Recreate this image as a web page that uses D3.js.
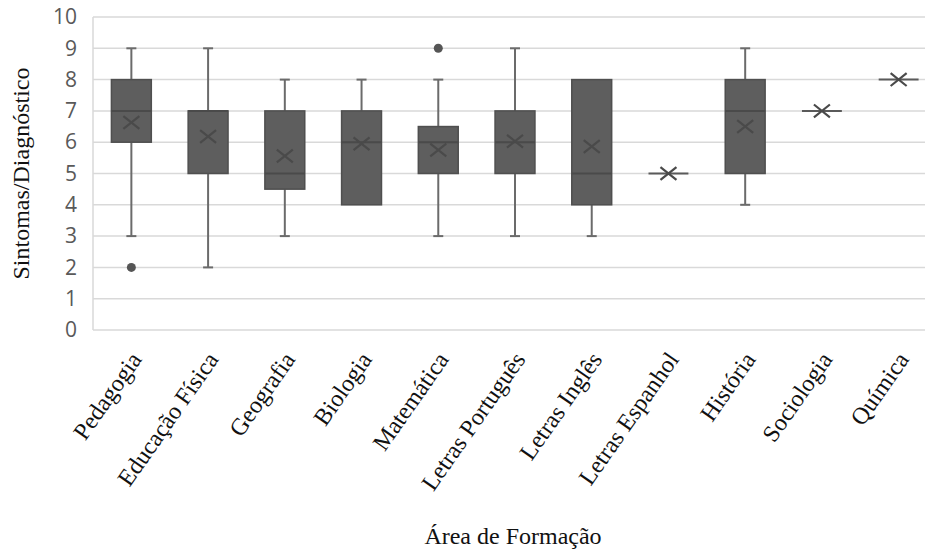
<!DOCTYPE html>
<html>
<head>
<meta charset="utf-8">
<script src="https://cdn.jsdelivr.net/npm/d3@7"></script>
<style>
  body { margin: 0; background: #fff; }
</style>
</head>
<body>
<div id="canvas"></div>
<script>
// categories and the box values
const categories = ["Pedagogia", "Educação Física", "Geografia", "Biologia", "Matemática",
  "Letras Português", "Letras Inglês", "Letras Espanhol", "História", "Sociologia", "Química"];
const whiskerLow  = [3, 2, 3,   4, 3,   3, 3, 5, 4, 7, 8];
const q1          = [6, 5, 4.5, 4, 5,   5, 4, 5, 5, 7, 8];
const medians     = [7, 7, 5,   6, 6,   6, 5, 5, 7, 7, 8];
const q3          = [8, 7, 7,   7, 6.5, 7, 8, 5, 8, 7, 8];
const whiskerHigh = [9, 9, 8,   8, 8,   9, 8, 5, 9, 7, 8];
const means       = [6.63, 6.18, 5.56, 5.95, 5.75, 6.03, 5.86, 5, 6.5, 7, 8];
const outlierCats = ["Pedagogia", "Matemática"];
const outlierVals = [2, 9];
const yTicks = [0, 1, 2, 3, 4, 5, 6, 7, 8, 9, 10];

const width = 925, height = 549;
const margin = {top: 17, right: -12, bottom: 219, left: 93};
const innerW = width - margin.left - margin.right;
const innerH = height - margin.top - margin.bottom;

const svg = d3.select("#canvas")
  .append("svg")
    .attr("width", width)
    .attr("height", height);

const g = svg.append("g")
    .attr("transform", "translate(" + margin.left + "," + margin.top + ")");

const x = d3.scaleBand()
    .domain(categories)
    .range([0, innerW])
    .padding(0);

const y = d3.scaleLinear()
    .domain([0, 10])
    .range([innerH, 0]);

const boxW = x.bandwidth() * 0.52;
const cx = function (c) { return x(c) + x.bandwidth() / 2; };

// gridlines
g.append("g")
  .selectAll("line")
  .data(yTicks)
  .enter()
  .append("line")
    .attr("x1", 0)
    .attr("x2", innerW)
    .attr("y1", function (d) { return y(d); })
    .attr("y2", function (d) { return y(d); })
    .attr("stroke", "#d9d9d9")
    .attr("stroke-width", 1.5);

g.append("line")
    .attr("x1", 0).attr("x2", 0)
    .attr("y1", y(10)).attr("y2", y(0))
    .attr("stroke", "#d9d9d9")
    .attr("stroke-width", 1.5);

// y axis labels
const yAxis = g.append("g")
    .call(d3.axisLeft(y).tickValues(yTicks).tickSize(0).tickPadding(16));
yAxis.select(".domain").remove();
yAxis.selectAll("text")
    .attr("font-family", "'Open Sans', sans-serif")
    .attr("font-size", 21)
    .attr("fill", "#595959");

// x axis labels
const xAxis = g.append("g")
    .attr("transform", "translate(0," + innerH + ")")
    .call(d3.axisBottom(x).tickSize(0));
xAxis.select(".domain").remove();
xAxis.selectAll("text")
    .attr("font-family", "'Liberation Serif', 'Times New Roman', serif")
    .attr("font-size", 24)
    .attr("fill", "#111")
    .attr("text-anchor", "end")
    .attr("dy", "0.35em")
    .attr("transform", "translate(2,23) rotate(-55)");

const idx = d3.range(categories.length);

// whiskers
const whisk = g.append("g").attr("stroke", "#6b6b6b").attr("stroke-width", 2);
idx.forEach(function (i) {
  const c = cx(categories[i]);
  if (whiskerHigh[i] > q3[i]) {
    whisk.append("line").attr("x1", c).attr("x2", c)
      .attr("y1", y(q3[i])).attr("y2", y(whiskerHigh[i]));
    whisk.append("line").attr("x1", c - 5).attr("x2", c + 5)
      .attr("y1", y(whiskerHigh[i])).attr("y2", y(whiskerHigh[i]));
  }
  if (whiskerLow[i] < q1[i]) {
    whisk.append("line").attr("x1", c).attr("x2", c)
      .attr("y1", y(q1[i])).attr("y2", y(whiskerLow[i]));
    whisk.append("line").attr("x1", c - 5).attr("x2", c + 5)
      .attr("y1", y(whiskerLow[i])).attr("y2", y(whiskerLow[i]));
  }
});

// boxes
g.append("g")
  .selectAll("rect")
  .data(idx.filter(function (i) { return q3[i] > q1[i]; }))
  .enter()
  .append("rect")
    .attr("x", function (i) { return cx(categories[i]) - boxW / 2; })
    .attr("y", function (i) { return y(q3[i]); })
    .attr("width", boxW)
    .attr("height", function (i) { return y(q1[i]) - y(q3[i]); })
    .attr("fill", "#5e5e5e")
    .attr("stroke", "#4f4f4f")
    .attr("stroke-width", 1.5);

// medians
g.append("g")
  .selectAll("line")
  .data(idx)
  .enter()
  .append("line")
    .attr("x1", function (i) { return cx(categories[i]) - boxW / 2; })
    .attr("x2", function (i) { return cx(categories[i]) + boxW / 2; })
    .attr("y1", function (i) { return y(medians[i]); })
    .attr("y2", function (i) { return y(medians[i]); })
    .attr("stroke", function (i) { return q3[i] > q1[i] ? "#4a4a4a" : "#5a5a5a"; })
    .attr("stroke-width", 2);

// mean markers
const m = 8;
g.append("g")
  .selectAll("path")
  .data(idx)
  .enter()
  .append("path")
    .attr("d", function (i) {
      const c = cx(categories[i]), v = y(means[i]);
      return "M" + (c - m) + "," + (v - m * 0.8) + "L" + (c + m) + "," + (v + m * 0.8) +
             "M" + (c - m) + "," + (v + m * 0.8) + "L" + (c + m) + "," + (v - m * 0.8);
    })
    .attr("fill", "none")
    .attr("stroke", "#4a4a4a")
    .attr("stroke-width", 2.2);

// outliers
g.append("g")
  .selectAll("circle")
  .data(d3.range(outlierVals.length))
  .enter()
  .append("circle")
    .attr("cx", function (j) { return cx(outlierCats[j]); })
    .attr("cy", function (j) { return y(outlierVals[j]); })
    .attr("r", 4.5)
    .attr("fill", "#555555");

// axis titles
svg.append("text")
    .attr("x", 513)
    .attr("y", 544)
    .attr("text-anchor", "middle")
    .attr("font-family", "'Liberation Serif', 'Times New Roman', serif")
    .attr("font-size", 24)
    .attr("fill", "#111")
    .text("Área de Formação");

svg.append("text")
    .attr("transform", "translate(29," + (margin.top + innerH / 2) + ") rotate(-90)")
    .attr("text-anchor", "middle")
    .attr("font-family", "'Liberation Serif', 'Times New Roman', serif")
    .attr("font-size", 24)
    .attr("fill", "#111")
    .text("Sintomas/Diagnóstico");
</script>
</body>
</html>
